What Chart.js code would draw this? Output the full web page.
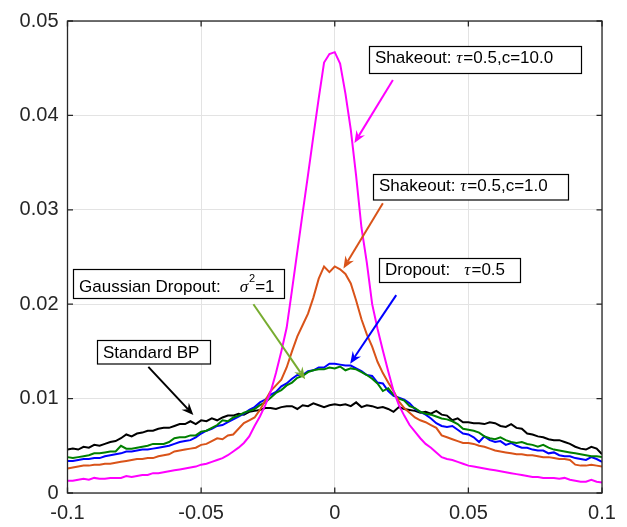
<!DOCTYPE html>
<html>
<head>
<meta charset="utf-8">
<script src="https://cdn.jsdelivr.net/npm/chart.js@4.4.1/dist/chart.umd.min.js"></script>
<style>
  html, body { margin: 0; padding: 0; background: #fff; }
  #wrap { width: 627px; height: 527px; }
</style>
</head>
<body>
<div id="wrap"><canvas id="weights" width="627" height="527"></canvas></div>
<script>
// histogram bin centres (weight value)
const binCenters = [
  -0.100, -0.098, -0.096, -0.094, -0.092, -0.090, -0.088, -0.086, -0.084, -0.082,
  -0.080, -0.078, -0.076, -0.074, -0.072, -0.070, -0.068, -0.066, -0.064, -0.062,
  -0.060, -0.058, -0.056, -0.054, -0.052, -0.050, -0.048, -0.046, -0.044, -0.042,
  -0.040, -0.038, -0.036, -0.034, -0.032, -0.030, -0.028, -0.026, -0.024, -0.022,
  -0.020, -0.018, -0.016, -0.014, -0.012, -0.010, -0.008, -0.006, -0.004, -0.002,
   0.000,  0.002,  0.004,  0.006,  0.008,  0.010,  0.012,  0.014,  0.016,  0.018,
   0.020,  0.022,  0.024,  0.026,  0.028,  0.030,  0.032,  0.034,  0.036,  0.038,
   0.040,  0.042,  0.044,  0.046,  0.048,  0.050,  0.052,  0.054,  0.056,  0.058,
   0.060,  0.062,  0.064,  0.066,  0.068,  0.070,  0.072,  0.074,  0.076,  0.078,
   0.080,  0.082,  0.084,  0.086,  0.088,  0.090,  0.092,  0.094,  0.096,  0.098, 0.100
];

// Standard BP
const standardBP = [
  0.0046, 0.0047, 0.0046, 0.0049, 0.0048, 0.0051, 0.0050, 0.0052, 0.0054, 0.0055,
  0.0058, 0.0062, 0.0060, 0.0063, 0.0064, 0.0066, 0.0066, 0.0068, 0.0069, 0.0069,
  0.0071, 0.0073, 0.0073, 0.0076, 0.0073, 0.0077, 0.0076, 0.0079, 0.0077, 0.0080,
  0.0082, 0.0082, 0.0084, 0.0083, 0.0086, 0.0087, 0.0088, 0.0090, 0.0090, 0.0089,
  0.0091, 0.0092, 0.0092, 0.0089, 0.0093, 0.0092, 0.0095, 0.0093, 0.0091, 0.0093,
  0.0094, 0.0093, 0.0094, 0.0092, 0.0096, 0.0091, 0.0093, 0.0092, 0.0090, 0.0091,
  0.0089, 0.0086, 0.0091, 0.0089, 0.0088, 0.0087, 0.0085, 0.0086, 0.0084, 0.0087,
  0.0083, 0.0082, 0.0077, 0.0079, 0.0075, 0.0075, 0.0074, 0.0074, 0.0073, 0.0075,
  0.0074, 0.0071, 0.0070, 0.0073, 0.0069, 0.0068, 0.0063, 0.0062, 0.0060, 0.0059,
  0.0057, 0.0056, 0.0056, 0.0054, 0.0052, 0.0049, 0.0047, 0.0046, 0.0049, 0.0047, 0.0041
];

// Dropout, tau = 0.5
const dropout = [
  0.0034, 0.0034, 0.0035, 0.0036, 0.0036, 0.0037, 0.0037, 0.0039, 0.0040, 0.0041,
  0.0042, 0.0044, 0.0044, 0.0045, 0.0046, 0.0046, 0.0047, 0.0048, 0.0049, 0.0050,
  0.0052, 0.0054, 0.0055, 0.0056, 0.0059, 0.0063, 0.0066, 0.0068, 0.0071, 0.0072,
  0.0075, 0.0078, 0.0081, 0.0084, 0.0088, 0.0091, 0.0096, 0.0099, 0.0104, 0.0107,
  0.0113, 0.0116, 0.0121, 0.0125, 0.0125, 0.0129, 0.0130, 0.0133, 0.0133, 0.0137,
  0.0137, 0.0136, 0.0135, 0.0135, 0.0132, 0.0129, 0.0125, 0.0124, 0.0117, 0.0116,
  0.0108, 0.0103, 0.0101, 0.0099, 0.0095, 0.0089, 0.0086, 0.0083, 0.0079, 0.0074,
  0.0071, 0.0070, 0.0071, 0.0067, 0.0063, 0.0062, 0.0059, 0.0054, 0.0060, 0.0056,
  0.0054, 0.0055, 0.0051, 0.0053, 0.0050, 0.0048, 0.0048, 0.0046, 0.0045, 0.0045,
  0.0042, 0.0043, 0.0040, 0.0039, 0.0039, 0.0037, 0.0036, 0.0035, 0.0038, 0.0036, 0.0033
];

// Gaussian dropout, sigma^2 = 1
const gaussianDropout = [
  0.0038, 0.0037, 0.0038, 0.0039, 0.0040, 0.0042, 0.0042, 0.0043, 0.0044, 0.0044,
  0.0050, 0.0047, 0.0047, 0.0048, 0.0049, 0.0050, 0.0052, 0.0052, 0.0052, 0.0054,
  0.0058, 0.0059, 0.0059, 0.0061, 0.0061, 0.0065, 0.0066, 0.0069, 0.0072, 0.0077,
  0.0076, 0.0080, 0.0082, 0.0085, 0.0087, 0.0089, 0.0093, 0.0096, 0.0101, 0.0106,
  0.0109, 0.0114, 0.0117, 0.0122, 0.0124, 0.0128, 0.0130, 0.0131, 0.0131, 0.0133,
  0.0132, 0.0134, 0.0130, 0.0132, 0.0131, 0.0128, 0.0125, 0.0121, 0.0116, 0.0108,
  0.0111, 0.0104, 0.0100, 0.0098, 0.0092, 0.0090, 0.0086, 0.0084, 0.0083, 0.0081,
  0.0079, 0.0078, 0.0076, 0.0073, 0.0068, 0.0067, 0.0066, 0.0064, 0.0060, 0.0058,
  0.0057, 0.0059, 0.0056, 0.0054, 0.0053, 0.0054, 0.0052, 0.0051, 0.0049, 0.0051,
  0.0048, 0.0046, 0.0045, 0.0044, 0.0043, 0.0042, 0.0041, 0.0040, 0.0039, 0.0039, 0.0038
];

// Shakeout, tau = 0.5, c = 1.0
const shakeoutC1 = [
  0.0026, 0.0027, 0.0028, 0.0029, 0.0029, 0.0030, 0.0030, 0.0031, 0.0031, 0.0032,
  0.0033, 0.0034, 0.0035, 0.0036, 0.0036, 0.0037, 0.0037, 0.0039, 0.0040, 0.0041,
  0.0044, 0.0045, 0.0046, 0.0047, 0.0048, 0.0051, 0.0052, 0.0055, 0.0058, 0.0057,
  0.0061, 0.0062, 0.0068, 0.0074, 0.0077, 0.0080, 0.0088, 0.0098, 0.0108, 0.0114,
  0.0120, 0.0133, 0.0150, 0.0166, 0.0178, 0.0190, 0.0207, 0.0227, 0.0240, 0.0234,
  0.0240, 0.0237, 0.0232, 0.0222, 0.0204, 0.0184, 0.0168, 0.0155, 0.0139, 0.0127,
  0.0117, 0.0108, 0.0097, 0.0090, 0.0085, 0.0080, 0.0077, 0.0075, 0.0072, 0.0069,
  0.0061, 0.0059, 0.0057, 0.0055, 0.0053, 0.0053, 0.0052, 0.0050, 0.0049, 0.0047,
  0.0045, 0.0044, 0.0043, 0.0042, 0.0041, 0.0041, 0.0040, 0.0040, 0.0039, 0.0038,
  0.0038, 0.0037, 0.0036, 0.0036, 0.0035, 0.0030, 0.0029, 0.0029, 0.0030, 0.0029, 0.0028
];

// Shakeout, tau = 0.5, c = 10.0
const shakeoutC10 = [
  0.0013, 0.0013, 0.0014, 0.0015, 0.0014, 0.0016, 0.0015, 0.0015, 0.0016, 0.0016,
  0.0016, 0.0018, 0.0017, 0.0018, 0.0019, 0.0019, 0.0021, 0.0021, 0.0022, 0.0023,
  0.0024, 0.0025, 0.0026, 0.0027, 0.0028, 0.0030, 0.0031, 0.0033, 0.0035, 0.0037,
  0.0040, 0.0044, 0.0048, 0.0053, 0.0060, 0.0071, 0.0081, 0.0093, 0.0107, 0.0127,
  0.0150, 0.0175, 0.0215, 0.0256, 0.0297, 0.0337, 0.0378, 0.0418, 0.0456, 0.0465,
  0.0467, 0.0455, 0.0423, 0.0385, 0.0336, 0.0281, 0.0244, 0.0200, 0.0174, 0.0151,
  0.0129, 0.0108, 0.0093, 0.0082, 0.0072, 0.0065, 0.0058, 0.0052, 0.0048, 0.0043,
  0.0038, 0.0036, 0.0035, 0.0033, 0.0031, 0.0029, 0.0028, 0.0027, 0.0026, 0.0025,
  0.0024, 0.0023, 0.0022, 0.0021, 0.0020, 0.0019, 0.0018, 0.0017, 0.0017, 0.0016,
  0.0016, 0.0016, 0.0015, 0.0016, 0.0014, 0.0013, 0.0012, 0.0012, 0.0014, 0.0012, 0.0011
];

const xTicks = [-0.1, -0.05, 0, 0.05, 0.1];
const xTickLabels = ['-0.1', '-0.05', '0', '0.05', '0.1'];
const yTicks = [0, 0.01, 0.02, 0.03, 0.04, 0.05];
const yTickLabels = ['0', '0.01', '0.02', '0.03', '0.04', '0.05'];

// text boxes: top-left corner in axis units, size in px
const boxes = [
  { parts: [{ t: 'Shakeout: ' }, { t: 'τ', greek: true }, { t: '=0.5,c=10.0' }], x: 0.0130, y: 0.04737, w: 212, h: 27, base: 16.7 },
  { parts: [{ t: 'Shakeout: ' }, { t: 'τ', greek: true }, { t: '=0.5,c=1.0' }], x: 0.01449, y: 0.03374, w: 195, h: 25.5, base: 16.7 },
  { parts: [{ t: 'Dropout:   ' }, { t: 'τ', greek: true }, { t: '=0.5' }], x: 0.01662, y: 0.02489, w: 141, h: 24, base: 16.6 },
  { parts: [{ t: 'Gaussian Dropout:    ' }, { t: 'σ', greek: true }, { t: '2', sup: true }, { t: '=1' }], x: -0.09805, y: 0.02372, w: 211, h: 29, base: 22.7 },
  { parts: [{ t: 'Standard BP' }], x: -0.08907, y: 0.01619, w: 113, h: 23.5, base: 17.3 }
];

// arrows from each box to its curve, axis units
const arrows = [
  { from: [0.02175, 0.04374], to: [0.00737, 0.03708], color: '#ff00ff' },
  { from: [0.0180, 0.03069], to: [0.00326, 0.02379], color: '#d95319' },
  { from: [0.0230, 0.02096], to: [0.00577, 0.01370], color: '#0000ff' },
  { from: [-0.03044, 0.01999], to: [-0.01108, 0.01205], color: '#77ac30' },
  { from: [-0.06975, 0.01336], to: [-0.0529, 0.00826], color: '#000000' }
];

function pts(values) {
  return binCenters.map(function (x, i) { return { x: x, y: values[i] }; });
}

function line(values, color) {
  return {
    data: pts(values),
    borderColor: color,
    borderWidth: 2,
    pointRadius: 0,
    tension: 0,
    fill: false
  };
}

// axes box with inward ticks on all four sides
const framePlugin = {
  id: 'frame',
  afterDatasetsDraw: function (chart) {
    const ctx = chart.ctx, a = chart.chartArea;
    const xs = chart.scales.x, ys = chart.scales.y;
    const tl = 5.5;
    ctx.save();
    ctx.strokeStyle = '#262626';
    ctx.lineWidth = 1.3;
    ctx.strokeRect(a.left, a.top, a.right - a.left, a.bottom - a.top);
    ctx.beginPath();
    xTicks.forEach(function (v) {
      const px = xs.getPixelForValue(v);
      ctx.moveTo(px, a.bottom); ctx.lineTo(px, a.bottom - tl);
      ctx.moveTo(px, a.top); ctx.lineTo(px, a.top + tl);
    });
    yTicks.forEach(function (v) {
      const py = ys.getPixelForValue(v);
      ctx.moveTo(a.left, py); ctx.lineTo(a.left + tl, py);
      ctx.moveTo(a.right, py); ctx.lineTo(a.right - tl, py);
    });
    ctx.stroke();
    ctx.restore();
  }
};

const notesPlugin = {
  id: 'notes',
  afterDraw: function (chart) {
    const ctx = chart.ctx;
    const xs = chart.scales.x, ys = chart.scales.y;
    ctx.save();

    arrows.forEach(function (ar) {
      const x0 = xs.getPixelForValue(ar.from[0]), y0 = ys.getPixelForValue(ar.from[1]);
      const x1 = xs.getPixelForValue(ar.to[0]), y1 = ys.getPixelForValue(ar.to[1]);
      const len = Math.hypot(x1 - x0, y1 - y0);
      const ux = (x1 - x0) / len, uy = (y1 - y0) / len;
      const nx = -uy, ny = ux;
      const L = 12, W = 5, notch = 8;
      ctx.strokeStyle = ar.color;
      ctx.fillStyle = ar.color;
      ctx.lineWidth = 2;
      ctx.beginPath();
      ctx.moveTo(x0, y0);
      ctx.lineTo(x1 - ux * notch, y1 - uy * notch);
      ctx.stroke();
      ctx.beginPath();
      ctx.moveTo(x1, y1);
      ctx.lineTo(x1 - ux * L + nx * W, y1 - uy * L + ny * W);
      ctx.lineTo(x1 - ux * notch, y1 - uy * notch);
      ctx.lineTo(x1 - ux * L - nx * W, y1 - uy * L - ny * W);
      ctx.closePath();
      ctx.fill();
    });

    boxes.forEach(function (b) {
      const left = Math.round(xs.getPixelForValue(b.x)) + 0.5;
      const top = Math.round(ys.getPixelForValue(b.y)) + 0.5;
      ctx.fillStyle = '#ffffff';
      ctx.fillRect(left, top, b.w, b.h);
      ctx.strokeStyle = '#000000';
      ctx.lineWidth = 1.2;
      ctx.strokeRect(left, top, b.w, b.h);
      ctx.fillStyle = '#000000';
      ctx.textAlign = 'left';
      ctx.textBaseline = 'alphabetic';
      let cx = left + 5.5;
      const base = top + b.base;
      b.parts.forEach(function (p) {
        if (p.greek) ctx.font = 'italic 17px "Liberation Serif", serif';
        else if (p.sup) ctx.font = '11px "Liberation Sans", Arial, sans-serif';
        else ctx.font = '17px "Liberation Sans", Arial, sans-serif';
        ctx.fillText(p.t, cx, p.sup ? base - 10.7 : base);
        cx += ctx.measureText(p.t).width + (p.greek ? 1 : 0);
      });
    });

    ctx.restore();
  }
};

const bgPlugin = {
  id: 'bg',
  beforeDraw: function (chart) {
    const ctx = chart.ctx;
    ctx.save();
    ctx.fillStyle = '#ffffff';
    ctx.fillRect(0, 0, chart.width, chart.height);
    ctx.restore();
  }
};

const tickFont = { family: "'Liberation Sans', Arial, sans-serif", size: 20 };

new Chart(document.getElementById('weights').getContext('2d'), {
  type: 'line',
  data: {
    datasets: [
      line(shakeoutC10, '#ff00ff'),
      line(shakeoutC1, '#d95319'),
      line(gaussianDropout, '#008000'),
      line(dropout, '#0000ff'),
      line(standardBP, '#000000')
    ]
  },
  options: {
    responsive: false,
    animation: false,
    events: [],
    layout: { padding: { top: 10, right: 25, left: 0, bottom: 0 } },
    plugins: {
      legend: { display: false },
      tooltip: { enabled: false }
    },
    scales: {
      x: {
        type: 'linear',
        min: -0.1,
        max: 0.1,
        afterBuildTicks: function (scale) {
          scale.ticks = xTicks.map(function (v) { return { value: v }; });
        },
        afterFit: function (scale) { scale.height = 34; },
        ticks: {
          autoSkip: false,
          maxRotation: 0,
          padding: 8,
          color: '#262626',
          font: tickFont,
          callback: function (v, i) { return xTickLabels[i]; }
        },
        grid: { color: '#e3e3e3', lineWidth: 1, drawTicks: false },
        border: { display: false }
      },
      y: {
        type: 'linear',
        min: 0,
        max: 0.05,
        afterBuildTicks: function (scale) {
          scale.ticks = yTicks.map(function (v) { return { value: v }; });
        },
        afterFit: function (scale) { scale.width = 67.5; },
        ticks: {
          autoSkip: false,
          padding: 9,
          color: '#262626',
          font: tickFont,
          callback: function (v, i) { return yTickLabels[i]; }
        },
        grid: { color: '#e3e3e3', lineWidth: 1, drawTicks: false },
        border: { display: false }
      }
    }
  },
  plugins: [bgPlugin, framePlugin, notesPlugin]
});
</script>
</body>
</html>
